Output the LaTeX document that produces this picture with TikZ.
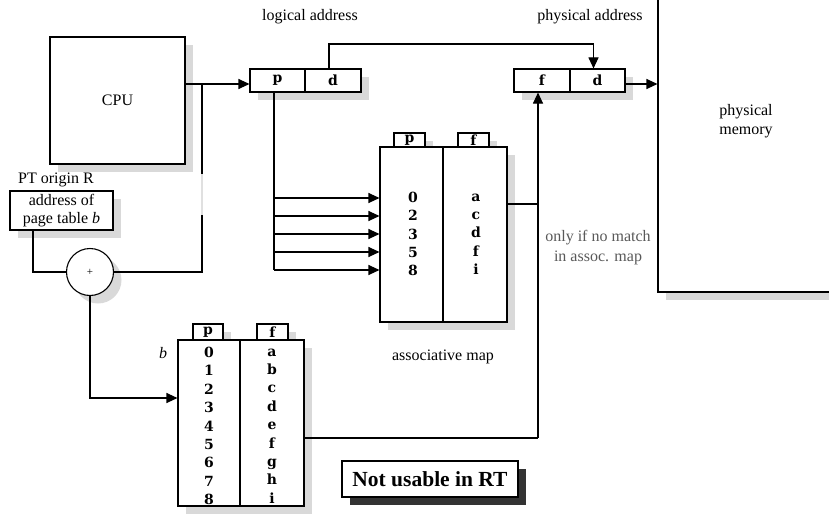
\documentclass[tikz,border=0pt]{standalone}
\usepackage{fontspec}
\setmainfont{Liberation Serif}
\newfontfamily\cellfont{DejaVu Serif}
\usetikzlibrary{arrows.meta,calc,shadows}

\tikzset{
  box/.style={draw, line width=1.1pt, fill=white, inner sep=0pt},
  sh/.style={drop shadow={shadow xshift=8pt, shadow yshift=-8pt, fill=black!15, opacity=1}},
  darksh/.style={drop shadow={shadow xshift=8pt, shadow yshift=-8pt, fill=black!80, opacity=1}},
  wire/.style={line width=1.1pt},
  arr/.style={wire, -{Triangle[length=11pt,width=10pt]}},
  lbl/.style={font=\fontsize{16}{18.5}\selectfont, inner sep=0pt},
  cell/.style={font=\cellfont\bfseries\fontsize{14}{18}\selectfont},
  vals/.style={font=\cellfont\bfseries\fontsize{14}{18.3}\selectfont, align=center, inner sep=0pt},
}

\begin{document}
\begin{tikzpicture}[x=1pt,y=-1pt]
\useasboundingbox (0,0) rectangle (829,519);
\clip (0,0) rectangle (829,519);

% CPU
\node[box, sh, lbl, minimum width=135pt, minimum height=127pt] (cpu) at (117.5,100.5) {CPU};

% logical address register
\node[lbl] (lalbl) at (310,17) {logical address};
\node[box, sh, cell, minimum width=55pt, minimum height=23pt] (lp) at (277.5,80.5) {p};
\node[box, sh, cell, minimum width=56pt, minimum height=23pt] (ld) at (333,80.5) {d};

% physical address register
\node[lbl] (palbl) at (590,17) {physical address};
\node[box, sh, cell, minimum width=56pt, minimum height=23pt] (pf) at (542,80.5) {f};
\node[box, sh, cell, minimum width=55pt, minimum height=23pt] (pd) at (597.5,80.5) {d};

% physical memory
\node[box, sh, minimum width=192pt, minimum height=312pt] (mem) at (754,136) {};
\node[lbl, align=left] (memlbl) at (746,121) {physical\\memory};

% associative map
\node[box, sh, cell, minimum width=31pt, minimum height=14pt] (amtp) at (409.5,140) {p};
\node[box, sh, cell, minimum width=31pt, minimum height=14pt] (amtf) at (473.5,140) {f};
\node[box, sh, minimum width=63pt, minimum height=175pt] (amp) at (411.5,234.5) {};
\node[box, sh, minimum width=64pt, minimum height=175pt] (amf) at (475,234.5) {};
\node[vals] (ampv) at (413,234) {0\\2\\3\\5\\8};
\node[vals] (amfv) at (476,234) {a\\c\\d\\f\\i};
\node[lbl] (amlbl) at (443,357) {associative map};

% page table
\node[box, sh, cell, minimum width=30pt, minimum height=16pt] (pttp) at (208,332) {p};
\node[box, sh, cell, minimum width=31pt, minimum height=16pt] (pttf) at (272.5,332) {f};
\node[box, sh, minimum width=62pt, minimum height=166pt] (ptp) at (209,423) {};
\node[box, sh, minimum width=64pt, minimum height=166pt] (ptf) at (272,423) {};
\node[vals, font=\cellfont\bfseries\fontsize{14}{18.4}\selectfont] (ptpv) at (209,426) {0\\1\\2\\3\\4\\5\\6\\7\\8};
\node[vals, font=\cellfont\bfseries\fontsize{14}{18.4}\selectfont] (ptfv) at (272,426) {a\\b\\c\\d\\e\\f\\g\\h\\i};
\node[lbl] (blbl) at (163,353) {\itshape b};

% page table origin register and adder
\node[lbl] (orlbl) at (56,180) {PT origin R};
\node[box, sh, lbl, align=center, font=\fontsize{16}{18}\selectfont, minimum width=103pt, minimum height=39pt] (ptbox) at (61.5,210.5) {address of\\page table \textit{b}};
\node[box, sh, circle, minimum size=47pt, font=\fontsize{11}{13}\selectfont] (add) at (90,272) {+};

% restriction note
\node[box, darksh, font=\bfseries\fontsize{21.5}{24}\selectfont, minimum width=176pt, minimum height=36pt] (note) at (430,479) {Not usable in RT};

% junction points
\coordinate (cpuj) at (202,84);
\coordinate (gapt) at (202,174);
\coordinate (gapb) at (202,215);
\coordinate (addj) at (202,272);
\coordinate (ptj) at (33,230);
\coordinate (topj) at (0,44);
\coordinate (pend) at (274,270);
\coordinate (amj) at (538,204);
\coordinate (ptfj) at (538,438);

% CPU to logical address
\draw[arr] (cpu.east |- cpuj) -- (lp.west |- cpuj);
% offset d copied into physical address
\draw[arr] ([xshift=-4pt]ld.north) -- ([xshift=-4pt]ld.north |- topj) -| ([xshift=-4pt]pd.north);
% physical address into memory
\draw[arr] (pd.east |- cpuj) -- (mem.west |- cpuj);

% page number fanned into the associative map
\draw[wire] ([xshift=-3.5pt]lp.south) -- (pend);
\foreach \yy in {198,216,234,252,270}
  \draw[arr] (pend |- 0,\yy) -- (amp.west |- 0,\yy);

% frame from associative map / page table into physical address
\draw[wire] (amf.east |- amj) -- (amj);
\draw[wire] (ptf.east |- ptfj) -- (ptfj);
\draw[arr] (ptfj) -- (pf.south -| ptfj);
\node[lbl, fill=white, align=center, text=black!65, inner sep=2pt, font=\fontsize{16}{20}\selectfont] (nomatch) at (598,248) {only if no match\\in assoc. map};

% adder inputs and output
\draw[wire] (cpuj) -- (gapt);
\draw[wire, black!12] (gapt) -- (gapb);
\draw[wire] (gapb) -- (addj) -- (add.east);
\draw[wire] (ptbox.south -| ptj) |- (add.west);
\draw[arr] (add.south) |- ([yshift=25pt]ptp.west);
\end{tikzpicture}
\end{document}
